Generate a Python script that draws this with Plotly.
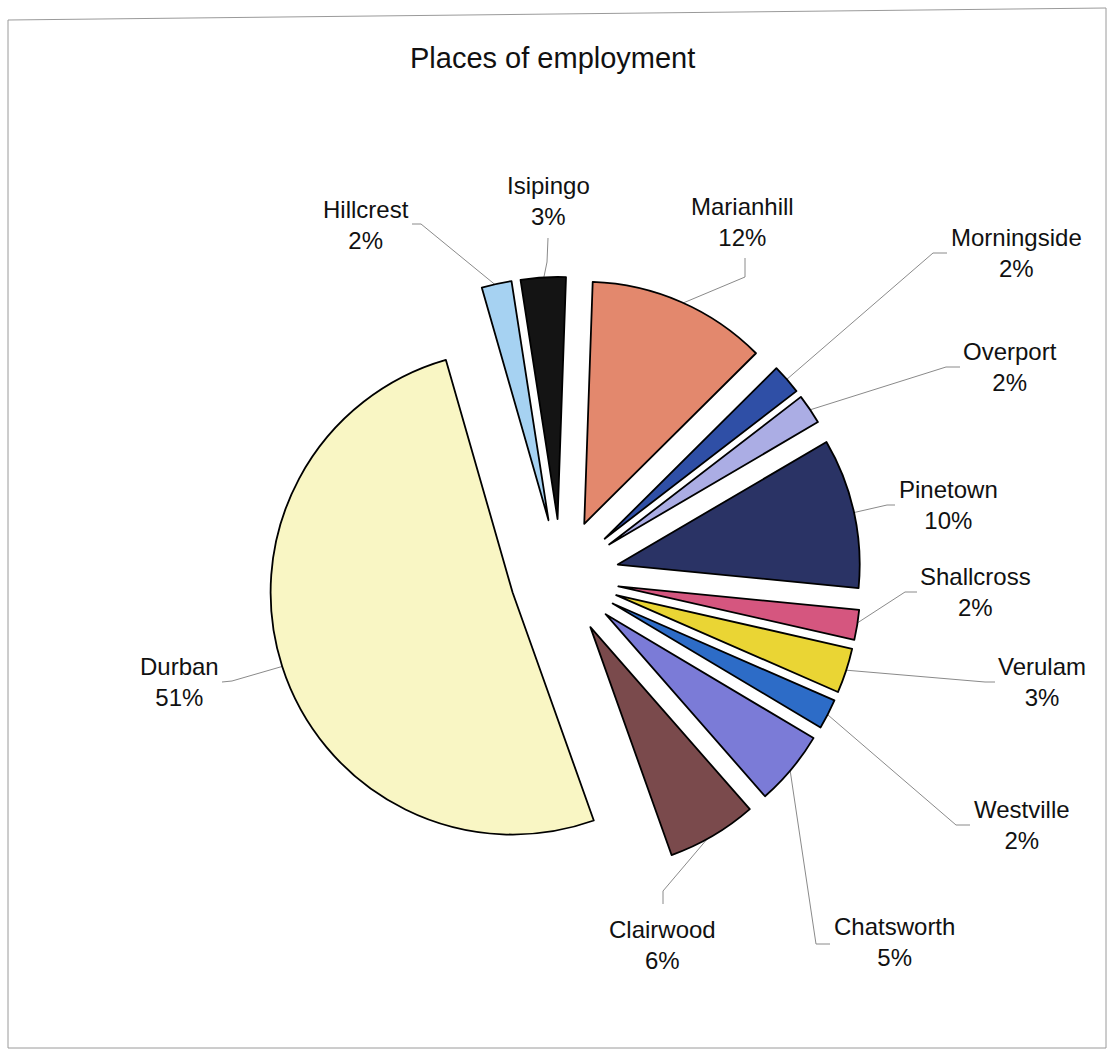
import math
import plotly.graph_objects as go

# ---- data -------------------------------------------------------------
places = ["Marianhill", "Morningside", "Overport", "Pinetown", "Shallcross",
          "Verulam", "Westville", "Chatsworth", "Clairwood", "Durban",
          "Hillcrest", "Isipingo"]
shares = [12, 2, 2, 10, 2, 3, 2, 5, 6, 51, 2, 3]

slice_colors = ["#E3886D", "#2F4FA6", "#ABADE4", "#2A3365", "#D5567F",
                "#EAD534", "#2D6CC7", "#7B7BD7", "#7A4A4C", "#F9F6C4",
                "#A6D2F2", "#141414"]

# ---- layout geometry (pixels) ----------------------------------------
W, H = 1112, 1051
CX, CY, R = 561, 577, 242          # pie centre and radius
ROT = 2                            # start angle, clockwise from 12 o'clock
pulls = [0.21 if p == "Durban" else 0.24 for p in places]

max_pull = max(pulls)
box = 2 * R * (1 + max_pull)
dom_x = [(CX - box / 2) / W, (CX + box / 2) / W]
y0 = 1 - (CY + box / 2) / H
dom_y = [y0, y0 + box / H]

# label block centre, leader start, leader elbow
label_pos = {
    "Marianhill":  (742, 222, 745, 258, 745, 277),
    "Morningside": (1016, 253, 947, 253, 933, 253),
    "Overport":    (1010, 367, 960, 367, 946, 367),
    "Pinetown":    (948, 505, 895, 505, 887, 505),
    "Shallcross":  (975, 592, 917, 592, 905, 592),
    "Verulam":     (1042, 682, 995, 682, 985, 682),
    "Westville":   (1022, 825, 970, 825, 956, 825),
    "Chatsworth":  (894, 942, 830, 944, 816, 944),
    "Clairwood":   (662, 945, 663, 904, 663, 891),
    "Durban":      (179, 682, 222, 682, 232, 681),
    "Hillcrest":   (366, 225, 412, 224, 421, 224),
    "Isipingo":    (548, 201, 548, 238, 547, 262),
}

total = sum(shares)

fig = go.Figure()

# leader lines: label -> elbow -> middle of the slice's outer arc
lx, ly = [], []
cum = 0
for name, v, p in zip(places, shares, pulls):
    mid = math.radians(ROT + 360 * (cum + v / 2) / total)
    cum += v
    ux, uy = math.sin(mid), -math.cos(mid)
    dist = p * R + R * 0.99
    ax, ay = CX + dist * ux, CY + dist * uy
    _, _, sx, sy, ex, ey = label_pos[name]
    lx += [sx, ex, ax, None]
    ly += [sy, ey, ay, None]

fig.add_trace(go.Scatter(
    x=lx, y=ly, mode="lines",
    line=dict(color="#8a8a8a", width=1),
    hoverinfo="skip", showlegend=False,
))

fig.add_trace(go.Pie(
    labels=places, values=shares,
    sort=False, direction="clockwise", rotation=ROT,
    pull=pulls,
    marker=dict(colors=slice_colors, line=dict(color="#000000", width=1.8)),
    textinfo="none", hoverinfo="label+percent",
    domain=dict(x=dom_x, y=dom_y),
    showlegend=False,
))

annotations = []
for name, v in zip(places, shares):
    cx_, cy_ = label_pos[name][:2]
    annotations.append(dict(
        x=cx_, y=cy_, xref="x", yref="y",
        text=f"{name}<br>{v / total * 100:.0f}%",
        showarrow=False, xanchor="center", yanchor="middle",
        font=dict(family="Liberation Sans, Arial, sans-serif", size=24, color="#111111"),
    ))

annotations.append(dict(
    x=552, y=58, xref="x", yref="y",
    text="Places of employment", showarrow=False,
    xanchor="center", yanchor="middle",
    font=dict(family="Liberation Sans, Arial, sans-serif", size=29, color="#111111"),
))

fig.update_layout(
    width=W, height=H,
    margin=dict(l=0, r=0, t=0, b=0),
    paper_bgcolor="white", plot_bgcolor="white",
    xaxis=dict(range=[0, W], visible=False, fixedrange=True),
    yaxis=dict(range=[H, 0], visible=False, fixedrange=True),
    annotations=annotations,
    shapes=[dict(
        type="path", xref="x", yref="y",
        path="M8,20 L1106,8 L1106,1048 L8,1048 Z",
        line=dict(color="#9a9a9a", width=1),
    )],
)

fig.write_html("out.html")
